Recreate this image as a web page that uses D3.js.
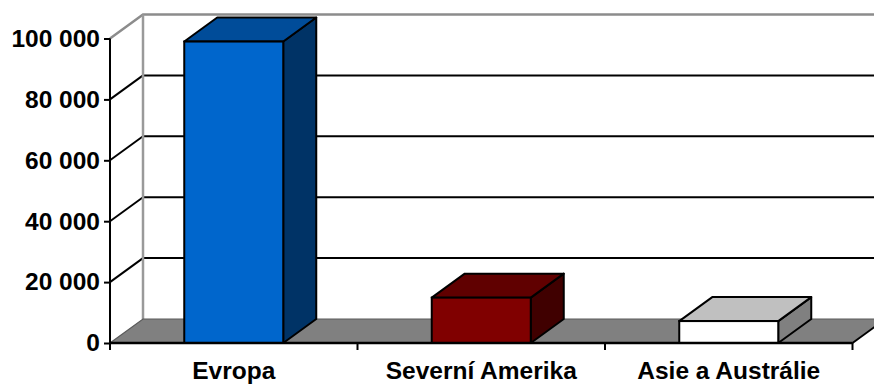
<!DOCTYPE html>
<html lang="cs">
<head>
<meta charset="UTF-8">
<title>3D sloupcový graf</title>
<style>
  html, body { margin: 0; padding: 0; background: #fff; }
  svg { display: block; }
  text { font-family: "Liberation Sans", Arial, sans-serif; font-weight: bold; fill: #000; }
</style>
</head>
<body>
<svg id="chart" width="874" height="385"></svg>
<script src="https://cdn.jsdelivr.net/npm/d3@7"></script>
<script>
// data
const categories = ["Evropa", "Severní Amerika", "Asie a Austrálie"];
const values = [99000, 14900, 7200];
const yTicks = [0, 20000, 40000, 60000, 80000, 100000];
const frontColors = ["#0066cc", "#800000", "#ffffff"];
const topColors = ["#004c99", "#600000", "#c0c0c0"];
const sideColors = ["#003366", "#400000", "#808080"];

const svg = d3.select("#chart");
const W = 874;

// depth of the 3d box
const dx = 33, dy = -24;

const x = d3.scaleBand()
  .domain(categories)
  .range([110, 852.5])
  .paddingInner(0.6)
  .paddingOuter(0.3);

const y = d3.scaleLinear().domain([0, 100000]).range([343, 38.5]);

const x0 = 110, x1 = 852.5;
const step = x.step();

const loc = d3.formatLocale({ decimal: ",", thousands: " ", grouping: [3], currency: ["", " Kč"] });
const fmt = loc.format(",d");

// back wall gridlines
const g = svg.append("g");
g.selectAll("line.grid")
  .data(yTicks.filter(d => d > 0 && d < 100000))
  .enter().append("line")
  .attr("x1", x0 + dx).attr("x2", W)
  .attr("y1", d => y(d) + dy).attr("y2", d => y(d) + dy)
  .attr("stroke", "#000").attr("stroke-width", 2);

// left wall diagonals
g.selectAll("line.diag")
  .data(yTicks.filter(d => d > 0 && d < 100000))
  .enter().append("line")
  .attr("x1", x0).attr("x2", x0 + dx)
  .attr("y1", d => y(d)).attr("y2", d => y(d) + dy)
  .attr("stroke", "#000").attr("stroke-width", 2);

// top edges of walls (gray)
g.append("path")
  .attr("d", `M${x0},${y(100000)}L${x0 + dx},${y(100000) + dy}L${W},${y(100000) + dy}`)
  .attr("fill", "none").attr("stroke", "#8c8c8c").attr("stroke-width", 2.5);
g.append("line")
  .attr("x1", x0 + dx).attr("x2", x0 + dx)
  .attr("y1", y(100000) + dy).attr("y2", y(0) + dy)
  .attr("stroke", "#9a9a9a").attr("stroke-width", 2.5);

// floor
g.append("path")
  .attr("d", `M${x0},${y(0)}L${x0 + dx},${y(0) + dy}L${x1 + dx},${y(0) + dy}L${x1},${y(0)}Z`)
  .attr("fill", "#808080").attr("stroke", "none");
g.append("path")
  .attr("d", `M${x0},${y(0)}L${x0 + dx},${y(0) + dy}L${x1 + dx},${y(0) + dy}`)
  .attr("fill", "none").attr("stroke", "#5a5a5a").attr("stroke-width", 1.2);
g.append("line")
  .attr("x1", x1).attr("y1", y(0)).attr("x2", x1 + dx).attr("y2", y(0) + dy)
  .attr("stroke", "#000").attr("stroke-width", 2);

// bars
const bars = svg.append("g").selectAll("g")
  .data(categories.map((c, i) => ({ c, v: values[i], i })))
  .enter().append("g");

bars.append("path") // side
  .attr("d", d => {
    const r = x(d.c) + x.bandwidth(), t = y(d.v), b = y(0);
    return `M${r},${b}L${r},${t}L${r + dx},${t + dy}L${r + dx},${b + dy}Z`;
  })
  .attr("fill", d => sideColors[d.i]).attr("stroke", "#000").attr("stroke-width", 2).attr("stroke-linejoin", "round");
bars.append("path") // top
  .attr("d", d => {
    const l = x(d.c), r = l + x.bandwidth(), t = y(d.v);
    return `M${l},${t}L${l + dx},${t + dy}L${r + dx},${t + dy}L${r},${t}Z`;
  })
  .attr("fill", d => topColors[d.i]).attr("stroke", "#000").attr("stroke-width", 2).attr("stroke-linejoin", "round");
bars.append("rect") // front
  .attr("x", d => x(d.c))
  .attr("y", d => y(d.v))
  .attr("width", x.bandwidth())
  .attr("height", d => y(0) - y(d.v))
  .attr("fill", d => frontColors[d.i]).attr("stroke", "#000").attr("stroke-width", 2);

// y axis
const yAxis = svg.append("g")
  .attr("transform", `translate(${x0},0)`)
  .call(d3.axisLeft(y).tickValues(yTicks).tickFormat(fmt).tickSize(6).tickPadding(4));
yAxis.select(".domain").remove();
yAxis.selectAll(".tick line").attr("stroke", "#000").attr("stroke-width", 2);
yAxis.selectAll("text").style("font-size", "24.5px");
svg.append("line")
  .attr("x1", x0).attr("x2", x0).attr("y1", y(100000)).attr("y2", y(0) + 7)
  .attr("stroke", "#000").attr("stroke-width", 2);

// x axis
svg.append("line")
  .attr("x1", x0).attr("x2", x1).attr("y1", y(0)).attr("y2", y(0))
  .attr("stroke", "#000").attr("stroke-width", 2.5);
const bounds = d3.range(categories.length + 1).map(i => x0 + i * step);
svg.selectAll("line.xtick")
  .data(bounds.slice(1))
  .enter().append("line")
  .attr("x1", d => d).attr("x2", d => d)
  .attr("y1", y(0)).attr("y2", y(0) + 7)
  .attr("stroke", "#000").attr("stroke-width", 2);
svg.selectAll("text.cat")
  .data(categories)
  .enter().append("text")
  .attr("class", "cat")
  .attr("x", d => x(d) + x.bandwidth() / 2)
  .attr("y", 379)
  .attr("text-anchor", "middle")
  .style("font-size", "24.5px")
  .text(d => d);
</script>
</body>
</html>
